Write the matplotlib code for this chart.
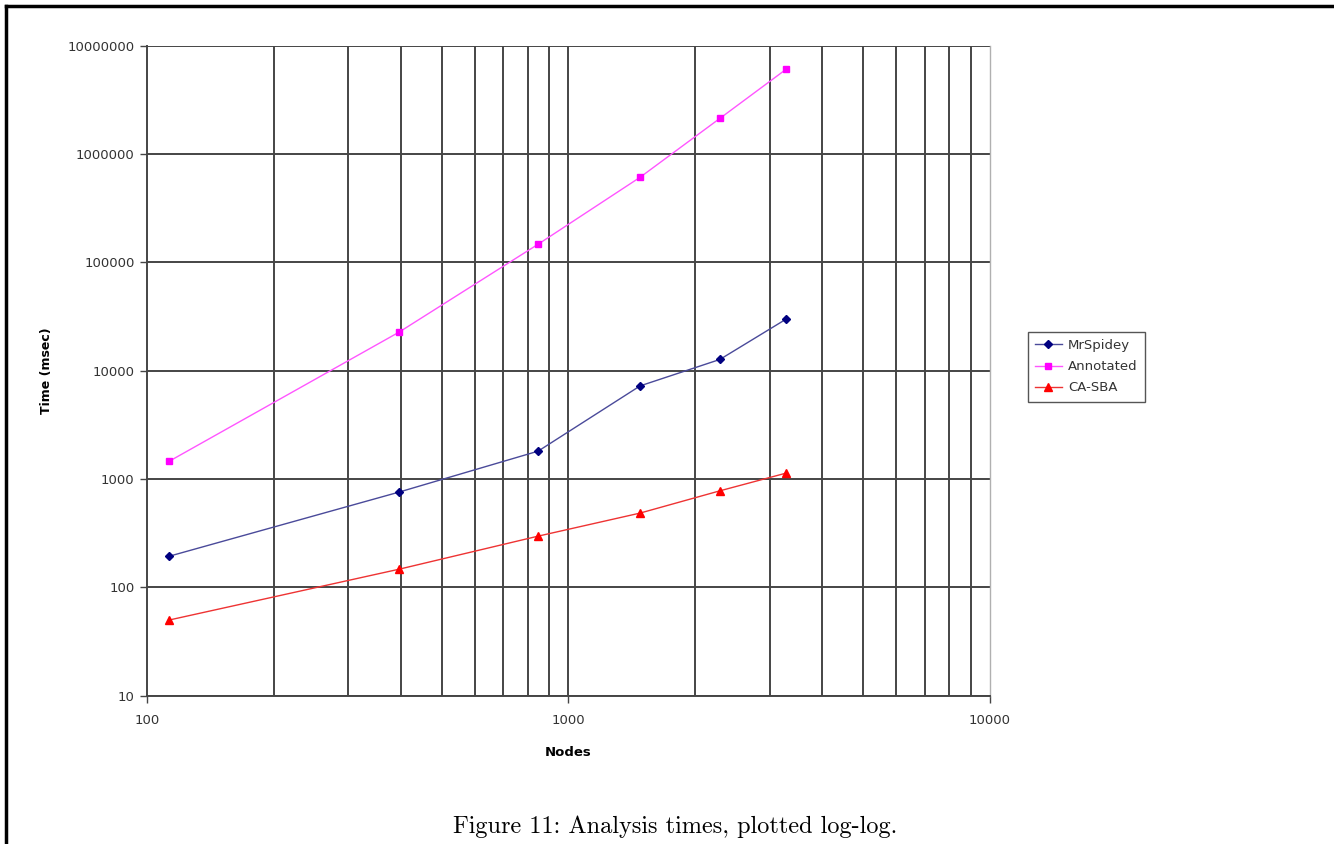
import numpy as np
import matplotlib.pyplot as plt
from matplotlib.lines import Line2D
from matplotlib.ticker import FixedLocator, FuncFormatter, NullFormatter

# node counts (x) and analysis times in msec (y)
nodes = [113, 396, 847, 1479, 2286, 3281]
mrspidey = [194, 757, 1808, 7240, 12690, 29860]
annotated = [1462, 22650, 146900, 610000, 2130000, 6040000]
ca_sba = [50, 147, 297, 485, 778, 1133]

series = [
    ('MrSpidey', mrspidey, '#000080', '#4a4a9a', 'D', 4.5),
    ('Annotated', annotated, '#ff00ff', '#ff55ff', 's', 5),
    ('CA-SBA', ca_sba, '#ff0000', '#ee3333', '^', 5.5),
]

fig = plt.figure(figsize=(13.34, 8.44), dpi=100)
ax = fig.add_axes([0.1102, 0.1757, 0.6319, 0.7702])

for name, vals, mcol, lcol, mk, ms in series:
    ax.plot(nodes, vals, color=lcol, lw=1.0, marker=mk, markersize=ms,
            markerfacecolor=mcol, markeredgecolor=mcol, label=name, zorder=3)

ax.set_xscale('log')
ax.set_yscale('log')
ax.set_xlim(100, 10000)
ax.set_ylim(10, 1e7)

xmaj = [100, 1000, 10000]
# vertical grid lines: every minor value plus 1000 (the 10000 edge is the light frame)
xgrid = [m * d for d in (100, 1000) for m in range(2, 10)] + [1000]
ax.xaxis.set_major_locator(FixedLocator(xmaj))
ax.xaxis.set_minor_locator(FixedLocator(xgrid))
ax.xaxis.remove_overlapping_locs = False
ax.xaxis.set_minor_formatter(NullFormatter())
ax.yaxis.set_major_locator(FixedLocator([10 ** k for k in range(1, 8)]))
ax.yaxis.set_minor_locator(FixedLocator([]))
fmt = FuncFormatter(lambda v, p: '%d' % round(v))
ax.xaxis.set_major_formatter(fmt)
ax.yaxis.set_major_formatter(fmt)

ax.grid(which='major', axis='y', color='#454545', lw=1.4)
ax.grid(which='minor', axis='x', color='#454545', lw=1.4)
ax.set_axisbelow(True)

ax.spines['top'].set_visible(False)
ax.spines['right'].set_color('#b0b0b0')
ax.spines['right'].set_linewidth(1.0)
for s in ['left', 'bottom']:
    ax.spines[s].set_color('#454545')
    ax.spines[s].set_linewidth(1.4)

ax.tick_params(which='major', direction='out', length=5, width=1,
               colors='#454545', labelcolor='#333333', labelsize=9.5, pad=4)
ax.tick_params(which='minor', length=0)
ax.tick_params(axis='x', pad=8)

ax.set_xlabel('Nodes', fontsize=9.5, fontweight='bold', labelpad=14)
ax.set_ylabel('Time (msec)', fontsize=9, fontweight='bold', labelpad=10)

leg = ax.legend(loc='upper left', bbox_to_anchor=(1.045, 0.56), fontsize=9.5,
                fancybox=False, edgecolor='#555555', framealpha=1,
                handlelength=2.0, borderpad=0.55, labelspacing=0.62,
                borderaxespad=0, handletextpad=0.5)
leg.get_frame().set_linewidth(1.0)
for t in leg.get_texts():
    t.set_color('#333333')

fig.text(0.506, 0.007, 'Figure 11: Analysis times, plotted log-log.',
         ha='center', va='bottom', fontsize=17.5, family=['cmr10', 'DejaVu Serif'])

# page frame, top and left edges
fig.add_artist(Line2D([0.0045, 1.0], [0.993, 0.993], color='black', lw=2.5,
                      transform=fig.transFigure))
fig.add_artist(Line2D([0.0045, 0.0045], [0.0, 0.993], color='black', lw=2.5,
                      transform=fig.transFigure))

fig.savefig('out.png', dpi=100)
